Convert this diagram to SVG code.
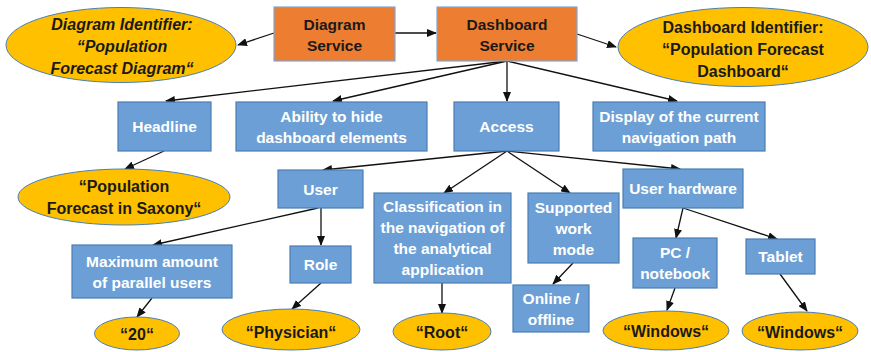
<svg xmlns="http://www.w3.org/2000/svg" width="871" height="352" viewBox="0 0 871 352">
<defs>
<marker id="ah" markerWidth="10" markerHeight="8" refX="9" refY="4" orient="auto" markerUnits="userSpaceOnUse">
<path d="M0,0 L10,4 L0,8 Z" fill="#111"/>
</marker>
<style>
.svc{fill:#ED7D31;stroke:#7FA7D6;stroke-width:1.2}
.box{fill:#6C9FD5;stroke:#4A7EB5;stroke-width:1.2}
.ell{fill:#FFC000;stroke:#4A7EB5;stroke-width:1}
.tw{font-family:"Liberation Sans",Arial,sans-serif;font-weight:bold;font-size:15.5px;fill:#fff;text-anchor:middle}
.tb{font-family:"Liberation Sans",Arial,sans-serif;font-weight:bold;font-size:15.5px;fill:#1a1a1a;text-anchor:middle}
.te{font-family:"Liberation Sans",Arial,sans-serif;font-weight:bold;font-size:16px;fill:#1a1a1a;text-anchor:middle}
.it{font-style:italic}
.c{stroke:#111;stroke-width:1.3;fill:none;marker-end:url(#ah)}
</style>
</defs>
<rect width="871" height="352" fill="#fff"/>
<g id="connectors">
<line class="c" x1="274" y1="33" x2="238" y2="45"/>
<line class="c" x1="395" y1="33" x2="436" y2="33"/>
<line class="c" x1="577" y1="34" x2="616" y2="47"/>
<line class="c" x1="507" y1="61" x2="166" y2="101"/>
<line class="c" x1="507" y1="61" x2="333" y2="101"/>
<line class="c" x1="507" y1="61" x2="507" y2="101"/>
<line class="c" x1="507" y1="61" x2="677" y2="101"/>
<line class="c" x1="164" y1="151" x2="125" y2="169"/>
<line class="c" x1="507" y1="151" x2="323" y2="170"/>
<line class="c" x1="507" y1="151" x2="444" y2="193"/>
<line class="c" x1="507" y1="151" x2="570" y2="193"/>
<line class="c" x1="507" y1="151" x2="680" y2="169"/>
<line class="c" x1="318" y1="208" x2="153" y2="245"/>
<line class="c" x1="321" y1="208" x2="321" y2="245"/>
<line class="c" x1="152" y1="298" x2="137" y2="317"/>
<line class="c" x1="321" y1="283" x2="292" y2="309"/>
<line class="c" x1="442" y1="283" x2="442" y2="313"/>
<line class="c" x1="573" y1="263" x2="553" y2="284"/>
<line class="c" x1="683" y1="208" x2="676" y2="238"/>
<line class="c" x1="683" y1="208" x2="777" y2="239"/>
<line class="c" x1="675" y1="288" x2="667" y2="310"/>
<line class="c" x1="780" y1="274" x2="807" y2="311"/>
</g>
<g id="diagram-identifier">
<ellipse class="ell" cx="121" cy="45" rx="115" ry="37.5"/>
<text class="te it" x="122" y="30">Diagram Identifier:</text>
<text class="te it" x="122" y="52">“Population</text>
<text class="te it" x="122" y="74">Forecast Diagram“</text>
</g>
<g id="diagram-service">
<rect class="svc" x="274" y="7" width="121" height="54"/>
<text class="tb" x="334.5" y="29.5">Diagram</text>
<text class="tb" x="334.5" y="50.5">Service</text>
</g>
<g id="dashboard-service">
<rect class="svc" x="437" y="7" width="140" height="54"/>
<text class="tb" x="507" y="29.5">Dashboard</text>
<text class="tb" x="507" y="50.5">Service</text>
</g>
<g id="dashboard-identifier">
<ellipse class="ell" cx="743" cy="47" rx="125" ry="39.5"/>
<text class="te" x="743" y="33">Dashboard Identifier:</text>
<text class="te" x="743" y="55">“Population Forecast</text>
<text class="te" x="743" y="77">Dashboard“</text>
</g>
<g id="headline">
<rect class="box" x="118" y="102" width="93" height="49"/>
<text class="tw" x="164.5" y="132">Headline</text>
</g>
<g id="ability">
<rect class="box" x="236" y="102" width="191" height="49"/>
<text class="tw" x="331.5" y="121.5">Ability to hide</text>
<text class="tw" x="331.5" y="142.5">dashboard elements</text>
</g>
<g id="access">
<rect class="box" x="454" y="102" width="105" height="49"/>
<text class="tw" x="506.5" y="132">Access</text>
</g>
<g id="display">
<rect class="box" x="593" y="102" width="172" height="49"/>
<text class="tw" x="679" y="121.5">Display of the current</text>
<text class="tw" x="679" y="142.5">navigation path</text>
</g>
<g id="population-saxony">
<ellipse class="ell" cx="124" cy="197" rx="106" ry="28"/>
<text class="te" x="124" y="192">“Population</text>
<text class="te" x="124" y="214">Forecast in Saxony“</text>
</g>
<g id="user">
<rect class="box" x="278" y="170" width="85" height="38"/>
<text class="tw" x="320.5" y="194.5">User</text>
</g>
<g id="classification">
<rect class="box" x="374" y="193" width="137" height="90"/>
<text class="tw" x="442.5" y="212">Classification in</text>
<text class="tw" x="442.5" y="233">the navigation of</text>
<text class="tw" x="442.5" y="254">the analytical</text>
<text class="tw" x="442.5" y="275">application</text>
</g>
<g id="supported">
<rect class="box" x="528" y="193" width="91" height="70"/>
<text class="tw" x="573.5" y="212.5">Supported</text>
<text class="tw" x="573.5" y="233.5">work</text>
<text class="tw" x="573.5" y="254.5">mode</text>
</g>
<g id="user-hardware">
<rect class="box" x="623" y="169" width="120" height="39"/>
<text class="tw" x="683" y="194">User hardware</text>
</g>
<g id="maximum">
<rect class="box" x="72" y="245" width="160" height="53"/>
<text class="tw" x="152" y="266.5">Maximum amount</text>
<text class="tw" x="152" y="287.5">of parallel users</text>
</g>
<g id="role">
<rect class="box" x="290" y="246" width="61" height="37"/>
<text class="tw" x="320.5" y="270">Role</text>
</g>
<g id="online">
<rect class="box" x="513" y="285" width="76" height="47"/>
<text class="tw" x="551" y="303.5">Online /</text>
<text class="tw" x="551" y="324.5">offline</text>
</g>
<g id="pc">
<rect class="box" x="633" y="238" width="84" height="50"/>
<text class="tw" x="675" y="258">PC /</text>
<text class="tw" x="675" y="279">notebook</text>
</g>
<g id="tablet">
<rect class="box" x="746" y="239" width="69" height="35"/>
<text class="tw" x="780.5" y="262">Tablet</text>
</g>
<g id="v20">
<ellipse class="ell" cx="137" cy="333.5" rx="42.5" ry="16.5"/>
<text class="te" x="137" y="340">“20“</text>
</g>
<g id="physician">
<ellipse class="ell" cx="291" cy="329.5" rx="69" ry="20.5"/>
<text class="te" x="291" y="338">“Physician“</text>
</g>
<g id="root">
<ellipse class="ell" cx="442" cy="331.5" rx="49" ry="18.5"/>
<text class="te" x="442" y="337.5">“Root“</text>
</g>
<g id="windows-pc">
<ellipse class="ell" cx="666" cy="330.5" rx="63" ry="19.5"/>
<text class="te" x="666" y="337">“Windows“</text>
</g>
<g id="windows-tablet">
<ellipse class="ell" cx="800" cy="331" rx="58" ry="19"/>
<text class="te" x="800" y="337.5">“Windows“</text>
</g>
</svg>
